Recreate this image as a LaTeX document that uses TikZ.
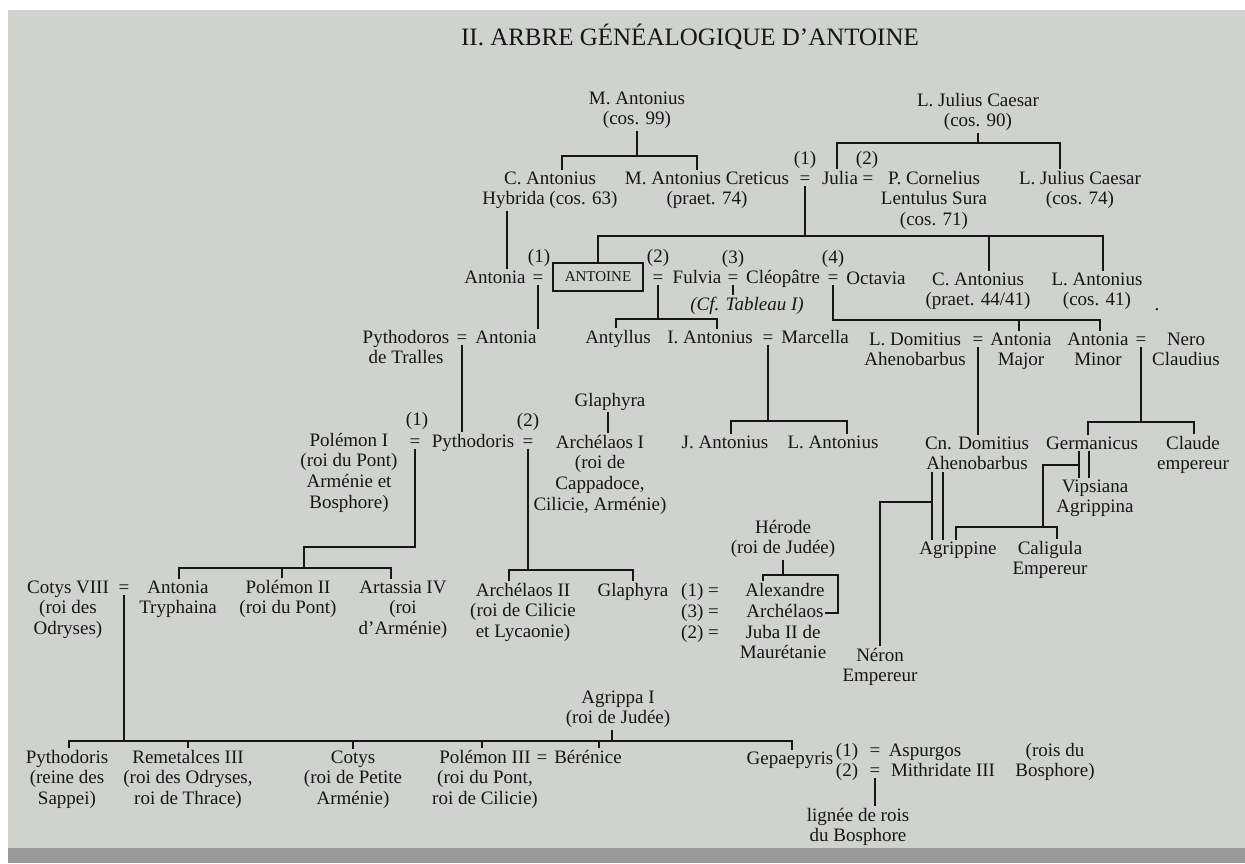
\documentclass[tikz,border=0pt]{standalone}
\usepackage{fontspec}
\setmainfont{Liberation Serif}
\definecolor{paper}{RGB}{207,210,205}
\definecolor{ink}{RGB}{22,22,22}
\begin{document}
\begin{tikzpicture}[x=1pt, y=-1pt,
    main/.style = {inner sep=1.5pt, align=center, anchor=base, text=ink, font=\fontsize{19}{20.8}\selectfont},
    two/.style = {main, yshift=-20.8pt},
    three/.style = {main, yshift=-41.6pt},
    four/.style = {main, yshift=-62.4pt},
    link/.style = {draw=ink, line width=1.7pt}]
  \useasboundingbox (0,0) rectangle (1245,863);
  \fill[white] (0,0) rectangle (1245,863);
  \fill[paper] (8,10) rectangle (1245,848);
  \fill[black!40] (8,848) rectangle (1245,863);

  \node[main, font=\fontsize{25}{28}\selectfont] (title) at (690,45) {II.\ ARBRE GÉNÉALOGIQUE D’ANTOINE};

  % first generations
  \node[two] (mant) at (637,104) {M. Antonius\\(cos. 99)};
  \node[two] (ljc) at (978,106) {L. Julius Caesar\\(cos. 90)};
  \node[two] (cant) at (550,184) {C. Antonius\\Hybrida (cos. 63)};
  \node[two] (mcret) at (707,184) {M. Antonius Creticus\\(praet. 74)};
  \node[main] (eq1) at (805,184) {=};
  \node[main] (n1) at (805,164) {(1)};
  \node[main] (julia) at (840,184) {Julia};
  \node[main] (eq2) at (868,184) {=};
  \node[main] (n2) at (867,164) {(2)};
  \node[three] (pcorn) at (934,184) {P. Cornelius\\Lentulus Sura\\(cos. 71)};
  \node[two] (ljc2) at (1080,184) {L. Julius Caesar\\(cos. 74)};

  % Antoine and his wives
  \node[main] (antonia1) at (495,283) {Antonia};
  \node[main] (eqA) at (538,283) {=};
  \node[main] (n3) at (539,262) {(1)};
  \node[draw=ink, line width=1.7pt, minimum width=90pt, minimum height=28pt, inner sep=0pt,
        text=ink, font=\fontsize{15}{15}\selectfont] (antoine) at (598,277) {ANTOINE};
  \node[main] (eq3) at (658,283) {=};
  \node[main] (n4) at (658,262) {(2)};
  \node[main] (fulvia) at (697,283) {Fulvia};
  \node[main] (eq4) at (733,283) {=};
  \node[main] (n5) at (733,263) {(3)};
  \node[main] (cleo) at (783,283) {Cléopâtre};
  \node[main] (eq5) at (833,283) {=};
  \node[main] (n6) at (833,263) {(4)};
  \node[main] (octavia) at (876,284) {Octavia};
  \node[two] (cant2) at (978,285) {C. Antonius\\(praet. 44/41)};
  \node[two] (lant) at (1097,285) {L. Antonius\\(cos. 41)};
  \node[main] (dot) at (1157,310) {.};
  \node[main, font=\fontsize{19}{20.8}\selectfont\itshape] (cf) at (747,310) {(Cf. Tableau I)};

  % children
  \node[two] (pythodoros) at (406,343) {Pythodoros\\de Tralles};
  \node[main] (eqP) at (462,343) {=};
  \node[main] (antonia2) at (506,343) {Antonia};
  \node[main] (antyllus) at (618,343) {Antyllus};
  \node[main] (iant) at (710,343) {I. Antonius};
  \node[main] (eqM) at (768,343) {=};
  \node[main] (marcella) at (815,343) {Marcella};
  \node[two] (ldom) at (915,345) {L. Domitius\\Ahenobarbus};
  \node[main] (eqD) at (978,345) {=};
  \node[two] (amaj) at (1021,345) {Antonia\\Major};
  \node[two] (amin) at (1098,345) {Antonia\\Minor};
  \node[main] (eqN) at (1141,345) {=};
  \node[two] (nero) at (1186,345) {Nero\\Claudius};

  % grandchildren
  \node[main] (glaph1) at (610,406) {Glaphyra};
  \node[main] (n7) at (417,425) {(1)};
  \node[main] (n8) at (528,426) {(2)};
  \node[four] (pol1) at (349,446) {Polémon I\\(roi du Pont)\\Arménie et\\Bosphore)};
  \node[main] (eqPo) at (415,447) {=};
  \node[main] (pythodoris) at (473,447) {Pythodoris};
  \node[main] (eqAr) at (528,447) {=};
  \node[four] (arch1) at (600,448) {Archélaos I\\(roi de\\Cappadoce,\\Cilicie, Arménie)};
  \node[main] (jant) at (725,448) {J. Antonius};
  \node[main] (lant2) at (833,448) {L. Antonius};
  \node[two] (cnd) at (977,449) {Cn. Domitius\\Ahenobarbus};
  \node[main] (germ) at (1092,449) {Germanicus};
  \node[two] (claude) at (1193,449) {Claude\\empereur};
  \node[two] (vips) at (1095,492) {Vipsiana\\Agrippina};

  \node[two] (herode) at (783,533) {Hérode\\(roi de Judée)};
  \node[main] (agrippine) at (958,554) {Agrippine};
  \node[two] (caligula) at (1050,554) {Caligula\\Empereur};
  \node[three] (cotys8) at (68,593) {Cotys VIII\\(roi des\\Odryses)};
  \node[main] (eqC) at (124,593) {=};
  \node[two] (atry) at (178,593) {Antonia\\Tryphaina};
  \node[two] (pol2) at (288,593) {Polémon II\\(roi du Pont)};
  \node[three] (arta) at (403,593) {Artassia IV\\(roi\\d’Arménie)};
  \node[three] (arch2) at (523,596) {Archélaos II\\(roi de Cilicie\\et Lycaonie)};
  \node[main] (glaph2) at (633,596) {Glaphyra};
  \node[main] (m1) at (700,596) {(1) =};
  \node[main] (m3) at (700,617) {(3) =};
  \node[main] (m2) at (700,638) {(2) =};
  \node[main] (alex) at (785,596) {Alexandre};
  \node[main] (archel) at (785,617) {Archélaos};
  \node[two] (juba) at (783,638) {Juba II de\\Maurétanie};
  \node[two] (neron) at (880,661) {Néron\\Empereur};

  % last generation
  \node[two] (agrippa) at (618,703) {Agrippa I\\(roi de Judée)};
  \node[three] (pyth2) at (67,763) {Pythodoris\\(reine des\\Sappei)};
  \node[three] (remet) at (188,763) {Remetalces III\\(roi des Odryses,\\roi de Thrace)};
  \node[three] (cotys) at (353,763) {Cotys\\(roi de Petite\\Arménie)};
  \node[three] (pol3) at (485,763) {Polémon III\\(roi du Pont,\\roi de Cilicie)};
  \node[main] (eqB) at (542,763) {=};
  \node[main] (beren) at (588,763) {Bérénice};
  \node[main] (gepa) at (790,764) {Gepaepyris};
  \node[main] (n9) at (847,756) {(1)};
  \node[main] (eqAs) at (875,756) {=};
  \node[main] (asp) at (925,756) {Aspurgos};
  \node[main] (n10) at (847,776) {(2)};
  \node[main] (eqMi) at (875,776) {=};
  \node[main] (mith) at (943,776) {Mithridate III};
  \node[two] (bosph) at (1055,756) {(rois du\\Bosphore)};
  \node[two] (lignee) at (858,821) {lignée de rois\\du Bosphore};

  % bars
  \coordinate (b1) at (637,156);
  \coordinate (b2) at (980,143);
  \coordinate (b4) at (807,236);
  \coordinate (b5) at (658,319);
  \coordinate (b6) at (833,320);
  \coordinate (b10) at (768,421);
  \coordinate (b12) at (1143,422);
  \coordinate (b14a) at (304,547);
  \coordinate (b14) at (304,568);
  \coordinate (b15) at (527,570);
  \coordinate (b16) at (783,575);
  \coordinate (b16r) at (838,613);
  \coordinate (b17) at (1079,465);
  \coordinate (b17b) at (1043,527);
  \coordinate (b18) at (932,502);
  \coordinate (b19) at (124,741);

  \draw[link] (mant.south) -- (mant.south |- b1);
  \draw[link] ([xshift=12pt]cant.north) |- (b1) -| ([xshift=-10pt]mcret.north);
  \draw[link] (ljc.south) -- (ljc.south |- b2);
  \draw[link] ([xshift=-3pt]julia.north) |- (b2) -| ([xshift=-20pt]ljc2.north);
  \draw[link] ([xshift=-43pt]cant.south) -- ([xshift=-43pt]cant.south |- antonia1.north);
  \draw[link] (eq1.south) -- (eq1.south |- b4);
  \draw[link] (antoine.north) |- (b4) -| ([xshift=6pt]lant.north);
  \draw[link] ([xshift=11pt]cant2.north) -- ([xshift=11pt]cant2.north |- b4);
  \draw[link] (eq3.south) -- (eq3.south |- b5);
  \draw[link] ([xshift=-2pt]antyllus.north) |- (b5) -| ([xshift=7pt]iant.north);
  \draw[link] (eq5.south) -- (eq5.south |- b6) -| ([xshift=2pt]amin.north);
  \draw[link] ([xshift=-2pt]amaj.north) -- ([xshift=-2pt]amaj.north |- b6);
  \draw[link] (eq4.south) -- (eq4.south |- cf.north);
  \draw[link] (eqA.south) -- (eqA.south |- antonia2.north);
  \draw[link] (eqP.south) -- (eqP.south |- pythodoris.north);
  \draw[link] (eqM.south) -- (eqM.south |- b10);
  \draw[link] ([xshift=6pt]jant.north) |- (b10) -| ([xshift=14pt]lant2.north);
  \draw[link] (eqD.south) -- (eqD.south |- cnd.north);
  \draw[link] (eqN.south) -- (eqN.south |- b12);
  \draw[link] ([xshift=-4pt]germ.north) |- (b12) -| ([xshift=1pt]claude.north);
  \draw[link] ([xshift=-2pt]glaph1.south) -- ([xshift=-2pt]glaph1.south |- arch1.north);
  \draw[link] (eqPo.south) |- (b14a) -- (b14);
  \draw[link] ([xshift=1pt]atry.north) |- (b14) -| ([xshift=-12pt]arta.north);
  \draw[link] ([xshift=-6pt]pol2.north) -- ([xshift=-6pt]pol2.north |- b14);
  \draw[link] (eqAr.south) -- (eqAr.south |- b15);
  \draw[link] ([xshift=-14pt]arch2.north) |- (b15) -| (glaph2.north);
  \draw[link] (herode.south) -- (herode.south |- b16);
  \draw[link] ([xshift=-22pt]alex.north) |- (b16) -| (b16r) -- (b16r -| archel.east);
  \draw[link] ([xshift=-13pt]germ.south) -- ([xshift=-13pt]germ.south |- vips.north);
  \draw[link] ([xshift=-3pt]germ.south) -- ([xshift=-3pt]germ.south |- vips.north);
  \draw[link] (b17) -| (b17b);
  \draw[link] ([xshift=-2pt]agrippine.north) |- (b17b) -| ([xshift=7pt]caligula.north);
  \draw[link] ([xshift=-45pt]cnd.south) -- ([xshift=-45pt]cnd.south |- agrippine.north);
  \draw[link] ([xshift=-34pt]cnd.south) -- ([xshift=-34pt]cnd.south |- agrippine.north);
  \draw[link] (b18) -| (neron.north);
  \draw[link] (eqC.south) -- (eqC.south |- b19);
  \draw[link] ([xshift=2pt]pyth2.north) |- (b19) -| ([xshift=2pt]gepa.north);
  \draw[link] (remet.north) -- (remet.north |- b19);
  \draw[link] (cotys.north) -- (cotys.north |- b19);
  \draw[link] ([xshift=-3pt]pol3.north) -- ([xshift=-3pt]pol3.north |- b19);
  \draw[link] ([xshift=11pt]beren.north) -- ([xshift=11pt]beren.north |- b19);
  \draw[link] ([xshift=-6pt]agrippa.south) -- ([xshift=-6pt]agrippa.south |- b19);
  \draw[link] (eqMi.south) -- (eqMi.south |- lignee.north);
\end{tikzpicture}
\end{document}
